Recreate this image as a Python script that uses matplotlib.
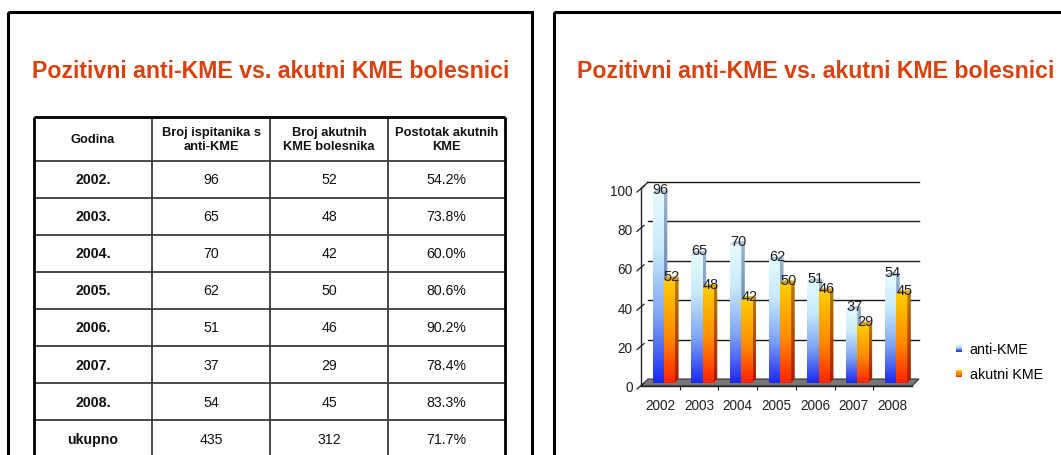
import numpy as np
import matplotlib
matplotlib.use('Agg')
import matplotlib.pyplot as plt
from matplotlib import font_manager
from matplotlib.patches import Rectangle, Polygon, Patch
from matplotlib.colors import LinearSegmentedColormap
from matplotlib.transforms import ScaledTranslation
from matplotlib.legend_handler import HandlerBase

plt.rcParams['font.family'] = ['Liberation Sans', 'DejaVu Sans']

# narrow face for table/chart labels when available, else plain Arial metrics
installed = {f.name for f in font_manager.fontManager.ttflist}
if 'Liberation Sans Narrow' in installed:
    LABEL_FONT, SCALE = ['Liberation Sans Narrow', 'DejaVu Sans'], 1.2
else:
    LABEL_FONT, SCALE = ['Liberation Sans', 'DejaVu Sans'], 1.08

# data
years = ['2002', '2003', '2004', '2005', '2006', '2007', '2008']
anti_kme = [96, 65, 70, 62, 51, 37, 54]
akutni_kme = [52, 48, 42, 50, 46, 29, 45]
postotak = [54.2, 73.8, 60.0, 80.6, 90.2, 78.4, 83.3]
ukupno = [435, 312, 71.7]
header = ['Godina', 'Broj ispitanika s\nanti-KME', 'Broj akutnih\nKME bolesnika', 'Postotak akutnih\nKME']
series_names = ['anti-KME', 'akutni KME']

TITLE = 'Pozitivni anti-KME vs. akutni KME bolesnici'
TITLE_COLOR = '#d9420f'

W, H = 1061, 456
fig = plt.figure(figsize=(W / 100, H / 100), dpi=100)

# background layer in pixel coordinates (slides, titles, table)
bg = fig.add_axes([0, 0, 1, 1])
bg.set_xlim(0, W)
bg.set_ylim(H, 0)
bg.axis('off')

for x0 in (8, 554):
    bg.add_patch(Rectangle((x0, 13), 524, 500, fill=False, lw=2.2, ec='black'))

bg.text(271, 71, TITLE, ha='center', va='center', fontsize=16.7,
        fontweight='bold', color=TITLE_COLOR)
bg.text(816, 71, TITLE, ha='center', va='center', fontsize=16.7,
        fontweight='bold', color=TITLE_COLOR)

# table
cols = [34, 152, 270, 388, 505]
top, head_bot, row_h = 118, 161.5, 37.1
n_rows = len(years) + 1
row_lines = [head_bot + row_h * k for k in range(n_rows)]
bg.hlines(row_lines, cols[0], cols[-1], color='#3a3a3a', lw=1.3)
bg.vlines(cols[1:-1], top, H, color='#3a3a3a', lw=1.3)
bg.hlines(top, cols[0], cols[-1], color='black', lw=2)
bg.vlines([cols[0], cols[-1]], top, H, color='black', lw=2)

centers = [(cols[k] + cols[k + 1]) / 2 for k in range(4)]
for cx, txt in zip(centers, header):
    bg.text(cx, (top + head_bot) / 2, txt, ha='center', va='center',
            fontsize=9.3 if SCALE < 1.1 else 9.3 * SCALE, fontweight='bold',
            linespacing=1.25, family=LABEL_FONT, color='#111')

rows = [[y + '.', str(a), str(b), f'{p:.1f}%']
        for y, a, b, p in zip(years, anti_kme, akutni_kme, postotak)]
rows.append(['ukupno', str(ukupno[0]), str(ukupno[1]), f'{ukupno[2]:.1f}%'])
for r, row in enumerate(rows):
    cy = head_bot + row_h * (r + 0.5)
    for c, txt in enumerate(row):
        bg.text(centers[c], cy, txt, ha='center', va='center',
                fontsize=9.4 * SCALE, family=LABEL_FONT,
                fontweight='bold' if c == 0 else 'normal', color='#111')

# chart
AX_L, AX_R, AX_B, AX_T = 641, 912, 387, 190
ax = fig.add_axes([AX_L / W, 1 - AX_B / H, (AX_R - AX_L) / W, (AX_B - AX_T) / H])
ax.set_xlim(-0.5, 6.5)
ax.set_ylim(0, 100)
ax.patch.set_visible(False)
for s in ['top', 'right']:
    ax.spines[s].set_visible(False)
for s in ['left', 'bottom']:
    ax.spines[s].set_color('#222')
    ax.spines[s].set_linewidth(1)

px_x = (AX_R - AX_L) / 7
px_y = (AX_B - AX_T) / 100


def px(dx, dy):
    # pixel offset -> data units
    return dx / px_x, dy / px_y


# back wall grid and floor
wx, wy = px(7, 7)
for v in range(20, 101, 20):
    ax.plot([-0.5 + wx, 6.5 + wx], [v + wy, v + wy], color='#1a1a1a', lw=1,
            zorder=1, clip_on=False)
ax.plot([-0.5, -0.5 + wx], [100, 100 + wy], color='#222', lw=1, clip_on=False)
ax.add_patch(Polygon([(-0.5, 0), (6.5, 0), (6.5 + wx, wy), (-0.5 + wx, wy)],
                     closed=True, fc='#777777', ec='#333333', lw=0.8, zorder=2,
                     clip_on=False))

# slanted y ticks
tx0, ty0 = px(-4, -3)
tx1, ty1 = px(3, 3)
for v in range(0, 101, 20):
    ax.plot([-0.5 + tx0, -0.5 + tx1], [v + ty0, v + ty1], color='#222', lw=0.9,
            clip_on=False)

blue_front = LinearSegmentedColormap.from_list(
    'bf', [(0, '#1a28f2'), (0.35, '#7fa4f2'), (0.7, '#c8eafb'), (1, '#e6fbff')])
blue_side = LinearSegmentedColormap.from_list(
    'bs', [(0, '#1a2090'), (0.5, '#6a88b8'), (1, '#9bb5cc')])
orange_front = LinearSegmentedColormap.from_list(
    'of', [(0, '#ff2200'), (0.45, '#ff8a00'), (1, '#ffcc00')])
orange_side = LinearSegmentedColormap.from_list(
    'os', [(0, '#a81800'), (1, '#b88000')])
grad = np.linspace(0, 1, 256).reshape(-1, 1)

bar_tr = ax.transData + ScaledTranslation(0.035, 0.035, fig.dpi_scale_trans)
x = np.arange(len(years))
w = 0.29
blue_bars = ax.bar(x - w, anti_kme, w, align='edge', fc='none', lw=0,
                   transform=bar_tr, zorder=3)
orange_bars = ax.bar(x, akutni_kme, w, align='edge', fc='none', lw=0,
                     transform=bar_tr, zorder=4)


def draw_column(rect, front_cmap, side_cmap, top_color, z):
    x0 = rect.get_x()
    x1 = x0 + rect.get_width()
    h = rect.get_height()
    dx, dy = px(3.5, 3.5)
    im = ax.imshow(grad, cmap=front_cmap, origin='lower', aspect='auto',
                   extent=(x0, x1, 0, h), transform=bar_tr, zorder=z,
                   interpolation='bilinear')
    im.set_clip_path(rect)
    side = Polygon([(x1, 0), (x1, h), (x1 + dx, h + dy), (x1 + dx, dy)],
                   closed=True, fc='none', lw=0, transform=bar_tr, zorder=z)
    ax.add_patch(side)
    im2 = ax.imshow(grad, cmap=side_cmap, origin='lower', aspect='auto',
                    extent=(x1, x1 + dx, 0, h + dy), transform=bar_tr, zorder=z,
                    interpolation='bilinear')
    im2.set_clip_path(side)
    ax.add_patch(Polygon([(x0, h), (x1, h), (x1 + dx, h + dy), (x0 + dx, h + dy)],
                         closed=True, fc=top_color, lw=0, transform=bar_tr,
                         zorder=z))


for b, o, vb, vo in zip(blue_bars, orange_bars, anti_kme, akutni_kme):
    draw_column(b, blue_front, blue_side, '#a9c4d8', 3)
    draw_column(o, orange_front, orange_side, '#d9a000', 4)
    ax.text(b.get_x(), vb, str(vb), transform=bar_tr, ha='left', va='baseline',
            fontsize=9.7 * SCALE, family=LABEL_FONT, color='#222', zorder=6)
    ax.text(o.get_x(), vo, str(vo), transform=bar_tr, ha='left', va='baseline',
            fontsize=9.7 * SCALE, family=LABEL_FONT, color='#222', zorder=6)

ax.set_xticks(x, years)
ax.set_xticks(np.arange(0.5, 6), minor=True)
ax.tick_params(axis='x', which='major', length=0, pad=9, labelsize=9.1 * SCALE,
               labelcolor='#222', labelfontfamily=LABEL_FONT)
ax.tick_params(axis='x', which='minor', length=3, width=0.8, color='#222')
ax.set_yticks(range(0, 101, 20))
ax.tick_params(axis='y', length=0, pad=6, labelsize=9.1 * SCALE,
               labelcolor='#222', labelfontfamily=LABEL_FONT)
ax.set_xlim(-0.5, 6.5)
ax.set_ylim(0, 100)


class GradientHandler(HandlerBase):
    def __init__(self, cmap):
        super().__init__()
        self.cmap = cmap

    def create_artists(self, legend, orig_handle, xdescent, ydescent, width,
                       height, fontsize, trans):
        n = 6
        return [Rectangle((-xdescent, -ydescent + k * height / n), width,
                          height / n, fc=self.cmap((k + 0.5) / n), lw=0,
                          transform=trans) for k in range(n)]


handles = [Patch(label=series_names[0]), Patch(label=series_names[1])]
fig.legend(handles=handles,
           handler_map={handles[0]: GradientHandler(blue_front),
                        handles[1]: GradientHandler(orange_front)},
           loc='upper left', bbox_to_anchor=(956 / W, 1 - 343 / H),
           frameon=False, prop={'family': LABEL_FONT, 'size': 9.5 * SCALE},
           handlelength=0.42, handleheight=0.42,
           handletextpad=0.55, labelspacing=0.8, borderpad=0, borderaxespad=0)

fig.savefig('out.png', dpi=100)
